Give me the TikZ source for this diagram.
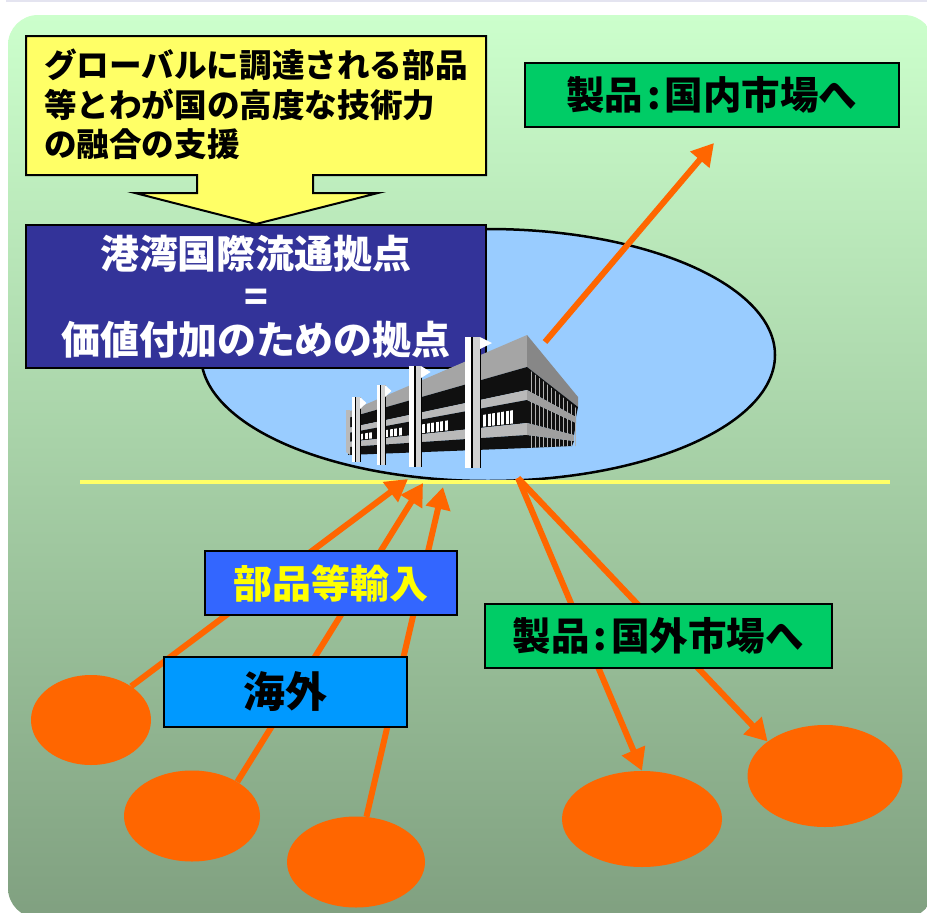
\documentclass[tikz,border=0pt]{standalone}
\usepackage{fontspec}
\newfontfamily\jp{Noto Sans CJK JP}
\usetikzlibrary{arrows.meta,shapes.geometric}

\definecolor{bgtop}{RGB}{204,255,204}
\definecolor{bgbot}{RGB}{128,160,128}
\definecolor{topline}{RGB}{228,228,240}
\definecolor{basefill}{RGB}{153,204,255}
\definecolor{hlcol}{RGB}{255,255,102}
\definecolor{callfill}{RGB}{255,255,102}
\definecolor{hubblue}{RGB}{51,51,153}
\definecolor{prodgreen}{RGB}{0,204,102}
\definecolor{importblue}{RGB}{51,102,255}
\definecolor{overseas}{RGB}{0,153,255}
\definecolor{flowor}{RGB}{255,102,0}
\definecolor{roofgray}{RGB}{165,165,165}
\definecolor{slabgray}{RGB}{185,185,185}
\definecolor{sidegray}{RGB}{135,135,135}
\definecolor{darkband}{RGB}{16,16,16}

\newcommand{\colonsep}{\hspace{4pt}:\hspace{4pt}}

\begin{document}
\begin{tikzpicture}[x=1pt,y=-1pt,
  jpf/.style={font=\jp\bfseries\fontsize{#1}{#1}\selectfont},
  labelbox/.style={draw, line width=2.5pt, inner sep=0pt, align=center},
  flow/.style={draw=flowor, line width=6pt, -{Triangle[length=22pt,width=24pt]}},
  market/.style={ellipse, fill=flowor, inner sep=0pt}]

\useasboundingbox (0,0) rectangle (927,913);

% background panel
\shade[top color=bgtop, bottom color=bgbot, rounded corners=30pt] (8,15) rectangle (934,918);
\draw[line width=1.5pt, topline] (6,1) -- (927,1);

% port hub area
\node[ellipse, draw, line width=2.5pt, fill=basefill, minimum width=574pt, minimum height=252pt, inner sep=0pt] (base) at (488,355) {};

% shoreline
\coordinate (shoreW) at (80,482);
\coordinate (shoreE) at (890,482);
\draw[line width=4pt, hlcol] (shoreW) -- (shoreE);

% overseas and market regions
\node[market, minimum width=120pt, minimum height=90pt] (ovA) at (91,720) {};
\node[market, minimum width=136pt, minimum height=91pt] (ovB) at (192,816) {};
\node[market, minimum width=138pt, minimum height=91pt] (ovC) at (356,862) {};
\node[market, minimum width=160pt, minimum height=96pt] (mkD) at (642,819) {};
\node[market, minimum width=155pt, minimum height=102pt] (mkE) at (825,776) {};

% flow end points at the hub
\coordinate (inA) at (408,479);
\coordinate (inB) at (423,483);
\coordinate (inC) at (443,487);
\coordinate (outS) at (518,478);
\coordinate (domS) at (545,342);
\coordinate (domT) at (714,143);

% imports
\draw[flow] (ovA.40) -- (inA);
\draw[flow] (ovB.37) -- (inB);
\draw[flow] (ovC.77) -- (inC);
% exports
\draw[flow] (outS) -- (mkD.north);
\draw[flow] (outS) -- (mkE.149);

% callout
\draw[fill=callfill, line width=2pt] (26,36) -- (486,36) -- (486,175) -- (313,175) -- (313,193) -- (378,193)
  -- (256,224) -- (135,193) -- (197,193) -- (197,175) -- (26,175) -- cycle;
\node[anchor=north west, align=left, inner sep=0pt, font=\jp\bfseries\fontsize{32.6}{39.5}\selectfont] (calltext) at (44,49)
  {グローバルに調達される部品\\等とわが国の高度な技術力\\の融合の支援};

% hub title
\node[labelbox, fill=hubblue, text=white, minimum width=460pt, minimum height=143pt,
  font=\jp\bfseries\fontsize{39}{43}\selectfont] (hub) at (256,296.5)
  {港湾国際流通拠点\\=\\価値付加のための拠点};

% building
\fill[roofgray] (348,412) -- (527,335) -- (527,367) -- (348,418) -- cycle;
\fill[darkband] (348,418) -- (527,367) -- (527,390) -- (348,428) -- cycle;
\fill[slabgray] (348,428) -- (527,390) -- (527,400) -- (348,433) -- cycle;
\fill[darkband] (348,433) -- (527,400) -- (527,423) -- (348,442) -- cycle;
\fill[slabgray] (348,442) -- (527,423) -- (527,435) -- (348,447) -- cycle;
\fill[darkband] (348,447) -- (527,435) -- (527,448) -- (348,455) -- cycle;
\fill[gray!55] (346,410) -- (350,410) -- (350,455) -- (346,452) -- cycle;
\fill[sidegray] (527,335) -- (578,397) -- (578,407) -- (527,367) -- cycle;
\fill[darkband] (527,367) -- (578,407) -- (576,417) -- (527,390) -- cycle;
\fill[darkband] (527,400) -- (576,423) -- (574,435) -- (527,423) -- cycle;
\fill[darkband] (527,435) -- (574,441) -- (572,446) -- (527,448) -- cycle;
\begin{scope}
  \clip (527,368) -- (576,408) -- (576,446) -- (527,448) -- cycle;
  \foreach \x in {531,535,...,575} \draw[gray!60, line width=0.6pt] (\x,360) -- (\x,450);
\end{scope}
\fill[sidegray!80] (527,390) -- (576,417) -- (576,423) -- (527,400) -- cycle;
\fill[sidegray!80] (527,423) -- (574,435) -- (574,441) -- (527,435) -- cycle;
\begin{scope}
  \clip (348,436) -- (527,408) -- (527,422) -- (348,441) -- cycle;
  \foreach \x in {360,364.5,369,385,389.5,394,398.5,422,426.5,431,435.5,440,444.5,483,487.5,492,496.5,501,505.5,510}
    \fill[white] (\x,380) rectangle (\x+3,460);
\end{scope}
\foreach \x/\w/\t/\b in {352/8/397/462, 377/8/385/465, 409/12/366/467, 465/15/337/468} {
  \fill[white] (\x,\t) rectangle (\x+0.4*\w,\b);
  \fill[black] (\x+0.4*\w,\t) rectangle (\x+0.55*\w,\b);
  \fill[gray!35] (\x+0.55*\w,\t) rectangle (\x+\w,\b);
  \draw[black, line width=0.6pt] (\x+\w,\t) -- (\x+\w,\b);
  \fill[white] (\x+\w,\t) -- (\x+1.8*\w,\t+6) -- (\x+\w,\t+12) -- cycle;
}

% domestic flow
\draw[flow] (domS) -- (domT);

% labels
\node[draw, line width=1.5pt, fill=prodgreen, minimum width=374pt, minimum height=64pt, inner sep=0pt, jpf=38.5] (dom) at (712,95) {製品\colonsep 国内市場へ};
\node[draw, line width=1.5pt, fill=prodgreen, minimum width=347pt, minimum height=64pt, inner sep=0pt, jpf=38.5] (exp) at (658.5,636) {製品\colonsep 国外市場へ};
\node[labelbox, fill=importblue, text={rgb,255:red,255;green,255;blue,0}, minimum width=252pt, minimum height=64pt, jpf=39] (imp) at (331,583) {部品等輸入};
\node[labelbox, fill=overseas, minimum width=243pt, minimum height=70pt, jpf=42] (ovs) at (285.5,692) {海外};

\end{tikzpicture}
\end{document}
